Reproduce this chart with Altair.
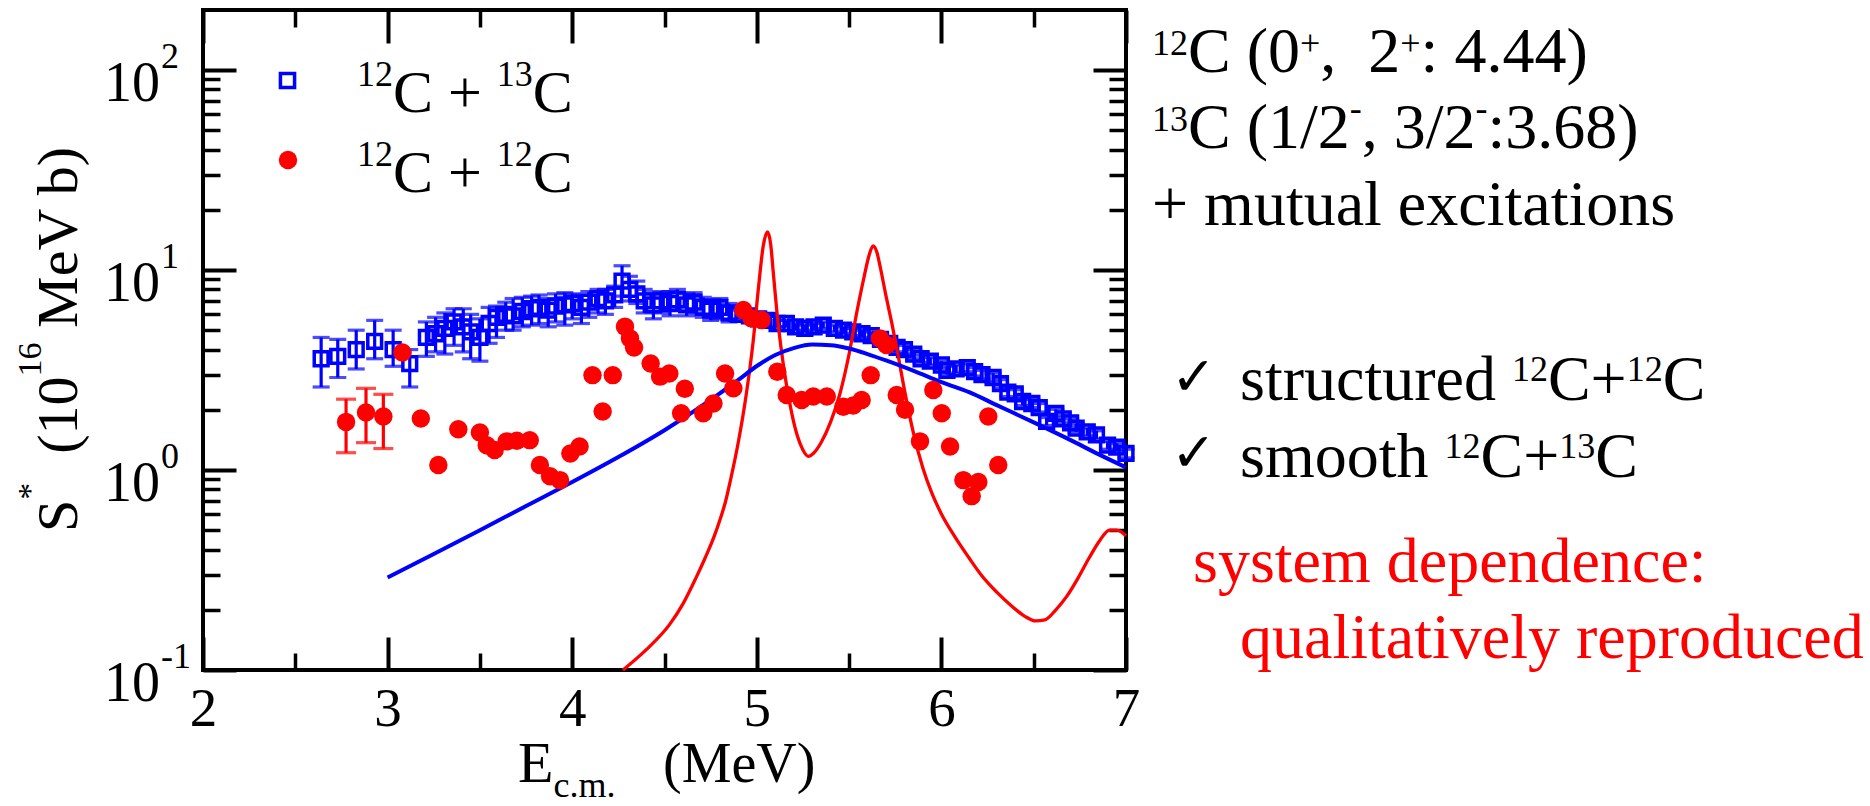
import altair as alt
import pandas as pd

BLUE = "#0000ff"
RED = "#ff0000"
FONT = "Liberation Serif"

# ---------------- data ----------------
blue_E = [2.64, 2.73, 2.83, 2.93, 3.03, 3.12, 3.21, 3.26, 3.31, 3.36,
          3.41, 3.45, 3.50, 3.55, 3.59, 3.64, 3.68, 3.73, 3.78, 3.82,
          3.87, 3.91, 3.96, 4.00, 4.05, 4.09, 4.14, 4.18, 4.23, 4.27,
          4.31, 4.35, 4.39, 4.44, 4.48, 4.53, 4.57, 4.62, 4.66, 4.71,
          4.75, 4.80, 4.85, 4.90, 4.96, 5.01, 5.06, 5.11, 5.16, 5.21,
          5.26, 5.31, 5.36, 5.42, 5.47, 5.52, 5.57, 5.62, 5.67, 5.72,
          5.76, 5.80, 5.85, 5.89, 5.94, 6.00, 6.03, 6.08, 6.14, 6.18,
          6.22, 6.28, 6.32, 6.36, 6.40, 6.44, 6.49, 6.53, 6.57, 6.62,
          6.66, 6.70, 6.73, 6.79, 6.84, 6.90, 6.95, 7.00]
blue_S = [3.6, 3.7, 4.0, 4.4, 4.0, 3.4, 4.6, 4.8, 5.1, 5.5,
          5.2, 4.9, 4.6, 5.4, 5.8, 6.0, 5.9, 6.2, 6.4, 6.5,
          6.3, 6.6, 6.7, 6.8, 6.5, 6.9, 7.2, 7.0, 7.5, 8.8,
          8.0, 7.6, 7.0, 6.7, 7.0, 6.8, 7.1, 6.7, 6.9, 6.5,
          6.3, 6.5, 6.1, 6.0, 5.9, 5.7, 5.6, 5.4, 5.4, 5.2,
          5.1, 5.2, 5.3, 5.1, 5.0, 4.9, 4.8, 4.7, 4.5, 4.3,
          4.1, 4.0, 3.8, 3.6, 3.5, 3.35, 3.15, 3.2, 3.25, 3.1,
          3.0, 2.9, 2.7, 2.45, 2.4, 2.2, 2.15, 2.05, 1.75, 1.92,
          1.8, 1.72, 1.62, 1.55, 1.5, 1.33, 1.3, 1.21]
blue_lo = [2.6, 2.9, 3.2, 3.6, 3.3, 2.6, 3.7, 3.9, 3.8, 4.2,
           3.9, 3.6, 3.5, 4.3, 4.6, 5.0, 5.0, 5.2, 5.3, 5.4,
           5.2, 5.5, 5.3, 5.7, 5.4, 5.8, 6.1, 6.0, 6.5, 7.4,
           7.0, 6.8, 6.1, 5.7, 6.1, 5.9, 6.3, 5.9, 6.1, 5.8,
           5.6, 5.7, 5.5, 5.7, 5.6, 5.5, 5.4, 5.2, 5.2, 5.0,
           4.9, 5.0, 5.1, 4.9, 4.8, 4.7, 4.6, 4.5, 4.3, 4.1,
           3.9, 3.8, 3.6, 3.45, 3.35, 3.2, 3.0, 3.05, 3.1, 2.95,
           2.85, 2.75, 2.57, 2.33, 2.28, 2.1, 2.05, 1.95, 1.67, 1.83,
           1.72, 1.64, 1.55, 1.48, 1.43, 1.27, 1.24, 1.15]
blue_hi = [4.6, 4.5, 5.0, 5.6, 5.0, 4.0, 5.5, 5.8, 6.1, 6.4,
           6.4, 6.0, 5.7, 6.5, 6.6, 6.9, 7.2, 7.3, 7.4, 7.5,
           7.2, 7.6, 7.7, 7.6, 7.5, 7.8, 8.0, 8.0, 8.3, 10.5,
           9.3, 8.8, 8.0, 7.7, 7.8, 7.8, 8.0, 7.6, 7.7, 7.3,
           7.1, 7.2, 6.8, 6.3, 6.2, 6.0, 5.9, 5.6, 5.6, 5.4,
           5.3, 5.4, 5.5, 5.3, 5.2, 5.1, 5.0, 4.9, 4.7, 4.5,
           4.3, 4.2, 4.0, 3.75, 3.65, 3.5, 3.3, 3.35, 3.4, 3.25,
           3.15, 3.05, 2.83, 2.57, 2.52, 2.3, 2.25, 2.15, 1.83, 2.01,
           1.88, 1.8, 1.7, 1.62, 1.57, 1.39, 1.36, 1.27]

red_E = [2.775, 2.883, 2.977, 3.08, 3.18, 3.275, 3.383, 3.50, 3.537, 3.58,
         3.645, 3.70, 3.77, 3.825, 3.88, 3.934, 3.99, 4.04, 4.11, 4.165,
         4.22, 4.286, 4.313, 4.335, 4.425, 4.476, 4.526, 4.59, 4.61, 4.71,
         4.765, 4.828, 4.873, 4.927, 4.972, 5.026, 5.111, 5.162, 5.243, 5.306,
         5.379, 5.469, 5.523, 5.568, 5.617, 5.667, 5.703, 5.758, 5.803, 5.884,
         5.956, 6.002, 6.047, 6.119, 6.164, 6.20, 6.254, 6.308]
red_S = [1.74, 1.94, 1.85, 3.87, 1.81, 1.06, 1.60, 1.54, 1.33, 1.26,
         1.39, 1.40, 1.41, 1.06, 0.93, 0.89, 1.21, 1.31, 2.98, 1.96,
         2.98, 5.21, 4.55, 4.10, 3.41, 2.93, 3.04, 1.92, 2.55, 1.92,
         2.15, 3.04, 2.56, 6.31, 5.73, 5.62, 3.10, 2.37, 2.24, 2.33,
         2.33, 2.07, 2.10, 2.24, 2.98, 4.55, 4.22, 2.37, 2.00, 1.39,
         2.51, 1.92, 1.31, 0.89, 0.74, 0.87, 1.85, 1.06]
red_err_E = [2.775, 2.883, 2.977]
red_err_lo = [1.22, 1.37, 1.28]
red_err_hi = [2.26, 2.56, 2.39]

blue_curve_E = [3.0, 3.25, 3.5, 3.75, 4.0, 4.25, 4.5, 4.75, 4.9, 5.0, 5.1, 5.2, 5.3,
                5.4, 5.5, 5.6, 5.7, 5.85, 6.0, 6.15, 6.3, 6.5, 6.7, 6.85, 7.0]
blue_curve_S = [0.29, 0.38, 0.50, 0.66, 0.87, 1.16, 1.58, 2.24, 2.82, 3.31, 3.76, 4.07, 4.24,
                4.21, 4.05, 3.80, 3.53, 3.13, 2.75, 2.45, 2.11, 1.73, 1.41, 1.20, 1.03]

red_curve_E = [4.275, 4.40, 4.53, 4.60, 4.67, 4.72, 4.77, 4.80, 4.83, 4.86,
               4.90, 4.94, 4.98, 5.01, 5.035, 5.058, 5.075, 5.09, 5.11,
               5.13, 5.16, 5.19, 5.22, 5.25, 5.28, 5.31, 5.35, 5.40, 5.45,
               5.50, 5.54, 5.58, 5.61, 5.63, 5.65, 5.67, 5.70, 5.73, 5.76,
               5.80, 5.85, 5.90, 5.95, 6.00, 6.07, 6.15, 6.22, 6.30, 6.38,
               6.45, 6.51, 6.56, 6.62, 6.68, 6.74, 6.80, 6.86, 6.91, 6.95, 7.00]
red_curve_S = [0.100, 0.126, 0.170, 0.214, 0.288, 0.363, 0.468, 0.562, 0.692, 0.912,
               1.38, 2.29, 4.37, 8.32, 13.2, 15.5, 13.5, 9.55, 6.03,
               4.17, 2.69, 1.91, 1.48, 1.26, 1.17, 1.22, 1.38, 1.74, 2.40,
               3.80, 6.03, 9.12, 12.0, 13.2, 12.3, 10.2, 7.41, 5.50, 3.98,
               2.51, 1.51, 1.02, 0.759, 0.603, 0.468, 0.363, 0.295, 0.245, 0.209,
               0.186, 0.176, 0.178, 0.200, 0.234, 0.288, 0.363, 0.447, 0.501, 0.501, 0.468]

x_major = [2, 3, 4, 5, 6, 7]
x_minor = [2.5, 3.5, 4.5, 5.5, 6.5]
y_major = [0.1, 1, 10, 100]
y_exponents = ["-1", "0", "1", "2"]
y_minor = [0.2, 0.3, 0.4, 0.5, 0.6, 0.7, 0.8, 0.9,
           2, 3, 4, 5, 6, 7, 8, 9,
           20, 30, 40, 50, 60, 70, 80, 90]

# ---------------- layout ----------------
W, H = 923, 660
LEFT, TOP = 203, 10
xs = alt.Scale(domain=[2, 7], nice=False, zero=False)
ys = alt.Scale(type="log", domain=[0.1, 199.5], nice=False)


def tick_axis(orient, values, length, labels=False):
    kw = dict(orient=orient, values=values, tickSize=length, offset=-length,
              tickWidth=4 if length > 20 else 3.5, tickColor="black", domain=False,
              grid=False, labels=labels, title=None, ticks=True)
    if labels:
        kw.update(labelFont=FONT, labelFontSize=55, labelColor="black", labelPadding=12,
                  labelFlush=False, labelOverlap=False, format="d")
    return alt.Axis(**kw)


blue_df = pd.DataFrame({"E": blue_E, "S": blue_S, "lo": blue_lo, "hi": blue_hi})
red_df = pd.DataFrame({"E": red_E, "S": red_S})
red_err_df = pd.DataFrame({"E": red_err_E, "lo": red_err_lo, "hi": red_err_hi})
bc_df = pd.DataFrame({"E": blue_curve_E, "S": blue_curve_S})
rc_df = pd.DataFrame({"E": red_curve_E, "S": red_curve_S})

blue_rules = alt.Chart(blue_df).mark_rule(color=BLUE, strokeWidth=3.2).encode(
    x=alt.X("E:Q", scale=xs, axis=tick_axis("bottom", x_major, 33, labels=True)),
    y=alt.Y("lo:Q", scale=ys, axis=tick_axis("left", y_major, 33)),
    y2="hi:Q")
blue_cap_lo = alt.Chart(blue_df).mark_tick(color=BLUE, orient="horizontal", size=17, thickness=3.2).encode(
    x=alt.X("E:Q", scale=xs, axis=tick_axis("bottom", x_minor, 17)),
    y=alt.Y("lo:Q", scale=ys, axis=tick_axis("left", y_minor, 17)))
blue_cap_hi = alt.Chart(blue_df).mark_tick(color=BLUE, orient="horizontal", size=17, thickness=3.2).encode(
    x=alt.X("E:Q", scale=xs, axis=tick_axis("top", x_major, 33)),
    y=alt.Y("hi:Q", scale=ys, axis=tick_axis("right", y_major, 33)))
blue_pts = alt.Chart(blue_df).mark_point(shape="square", filled=False, size=190, strokeWidth=3.5,
                                         color=BLUE, opacity=1).encode(
    x=alt.X("E:Q", scale=xs, axis=tick_axis("top", x_minor, 17)),
    y=alt.Y("S:Q", scale=ys, axis=tick_axis("right", y_minor, 17)))

red_rules = alt.Chart(red_err_df).mark_rule(color=RED, strokeWidth=3.2).encode(
    x=alt.X("E:Q", scale=xs, axis=None), y=alt.Y("lo:Q", scale=ys, axis=None), y2="hi:Q")
red_cap_lo = alt.Chart(red_err_df).mark_tick(color=RED, orient="horizontal", size=20, thickness=3.2).encode(
    x=alt.X("E:Q", scale=xs, axis=None), y=alt.Y("lo:Q", scale=ys, axis=None))
red_cap_hi = alt.Chart(red_err_df).mark_tick(color=RED, orient="horizontal", size=20, thickness=3.2).encode(
    x=alt.X("E:Q", scale=xs, axis=None), y=alt.Y("hi:Q", scale=ys, axis=None))
red_pts = alt.Chart(red_df).mark_circle(color=RED, size=340, opacity=1).encode(
    x=alt.X("E:Q", scale=xs, axis=None), y=alt.Y("S:Q", scale=ys, axis=None))

blue_line = alt.Chart(bc_df).mark_line(color=BLUE, strokeWidth=4, interpolate="monotone").encode(
    x=alt.X("E:Q", scale=xs, axis=None), y=alt.Y("S:Q", scale=ys, axis=None))
red_line = alt.Chart(rc_df).mark_line(color=RED, strokeWidth=3.3, interpolate="monotone").encode(
    x=alt.X("E:Q", scale=xs, axis=None), y=alt.Y("S:Q", scale=ys, axis=None))

# y tick labels "10" + exponent, placed through the log scale
ylab_df = pd.DataFrame({"v": y_major, "exp": y_exponents, "base": ["10"] * 4})
ylab_base = alt.Chart(ylab_df).mark_text(font=FONT, fontSize=56, align="right", baseline="alphabetic",
                                         dy=31, color="black").encode(
    x=alt.value(160 - LEFT), y=alt.Y("v:Q", scale=ys, axis=None), text="base:N")
ylab_exp = alt.Chart(ylab_df).mark_text(font=FONT, fontSize=36, align="left", baseline="alphabetic",
                                        dy=-2, color="black").encode(
    x=alt.value(161 - LEFT), y=alt.Y("v:Q", scale=ys, axis=None), text="exp:N")

# ---------------- text annotations (rich text built from pieces) ----------------
TW = {' ': 250, '(': 333, ')': 333, '*': 500, '+': 564, ',': 250, '-': 333, '.': 250, '/': 278,
      ':': 278, 'C': 667, 'E': 611, 'M': 889, 'S': 556, 'V': 722, 'a': 444, 'b': 500, 'c': 444,
      'd': 500, 'e': 444, 'h': 500, 'i': 278, 'l': 278, 'm': 778, 'n': 500, 'o': 500, 'p': 500,
      'q': 500, 'r': 333, 's': 389, 't': 278, 'u': 500, 'v': 500, 'x': 500, 'y': 500}


def tw(s, fs):
    return sum(TW.get(ch, 500) for ch in s) / 1000.0 * fs


rows = []


def run(pieces, x, y, fs, sfs, rise, color="black", angle=0):
    for p in pieces:
        txt, kind = p[0], p[1]
        r = p[2] if len(p) > 2 else rise
        size = fs if kind == "n" else sfs
        lead = len(txt) - len(txt.lstrip(" "))
        adv_lead = lead * 0.25 * size
        body = txt.strip(" ")
        if angle == 0:
            x += adv_lead
            yy = y - r if kind == "sup" else (y + r if kind == "sub" else y)
            rows.append((body, x - LEFT, yy - TOP, size, color, 0))
            x += tw(txt.lstrip(" "), size)
        else:
            y -= adv_lead
            xx = x - r if kind == "sup" else x
            rows.append((body, xx - LEFT, y - TOP, size, color, 270))
            y -= tw(txt.lstrip(" "), size)


# legend text
run([("12", "sup"), ("C + ", "n"), ("13", "sup"), ("C", "n")], 357, 112, 60, 36, 26)
run([("12", "sup"), ("C + ", "n"), ("12", "sup"), ("C", "n")], 357, 192, 60, 36, 26)
# axis titles
run([("E", "n"), ("c.m.", "sub", 15)], 518, 782, 58, 36, 15)
run([("(MeV)", "n")], 663, 782, 56, 36, 0)
run([("S", "n"), ("*", "sup"), ("  (10", "n"), ("16", "sup"), (" MeV b)", "n")], 77, 532, 58, 34, 36,
    angle=270)
# right-hand notes
run([("12", "sup"), ("C (0", "n"), ("+", "sup"), (",", "n"), ("  2", "n"), ("+", "sup"), (": 4.44)", "n")],
    1152, 72, 64, 36, 17)
run([("13", "sup"), ("C (1/2", "n"), ("-", "sup", 28), (", 3/2", "n"), ("-", "sup", 28), (":3.68)", "n")],
    1152, 148, 64, 36, 17)
run([("+ mutual excitations", "n")], 1152, 225, 64, 36, 0)
run([("structured ", "n"), ("12", "sup"), ("C+", "n"), ("12", "sup"), ("C", "n")], 1240, 400, 64, 36, 19)
run([("smooth ", "n"), ("12", "sup"), ("C+", "n"), ("13", "sup"), ("C", "n")], 1240, 477, 64, 36, 19)
run([("system dependence:", "n")], 1193, 582, 64, 36, 0, color=RED)
run([("qualitatively reproduced", "n")], 1240, 658, 64, 36, 0, color=RED)

ann = pd.DataFrame(rows, columns=["text", "x", "y", "size", "color", "angle"])
text_layer = alt.Chart(ann).mark_text(font=FONT, align="left", baseline="alphabetic").encode(
    x=alt.X("x:Q", scale=None, axis=None),
    y=alt.Y("y:Q", scale=None, axis=None),
    text="text:N",
    size=alt.Size("size:Q", scale=None, legend=None),
    color=alt.Color("color:N", scale=None, legend=None),
    angle=alt.Angle("angle:Q", scale=None, legend=None))

check_df = pd.DataFrame({"text": ["\u2713", "\u2713"], "x": [1171 - LEFT, 1171 - LEFT],
                         "y": [395 - TOP, 471 - TOP]})
check_layer = alt.Chart(check_df).mark_text(font="DejaVu Sans", fontSize=54, align="left",
                                            baseline="alphabetic", color="black").encode(
    x=alt.X("x:Q", scale=None, axis=None), y=alt.Y("y:Q", scale=None, axis=None), text="text:N")

one = pd.DataFrame({"a": [0]})
leg_sq = alt.Chart(one).mark_point(shape="square", filled=False, size=200, strokeWidth=3.5,
                                   color=BLUE, opacity=1).encode(
    x=alt.value(287.5 - LEFT), y=alt.value(80.5 - TOP))
leg_ci = alt.Chart(one).mark_circle(color=RED, size=340, opacity=1).encode(
    x=alt.value(288 - LEFT), y=alt.value(160 - TOP))

chart = alt.layer(
    blue_rules, blue_cap_lo, blue_cap_hi, blue_pts,
    red_line, blue_line,
    red_rules, red_cap_lo, red_cap_hi, red_pts,
    ylab_base, ylab_exp, text_layer, check_layer, leg_sq, leg_ci
).resolve_axis(x="independent", y="independent").properties(
    width=W, height=H,
    autosize=alt.AutoSizeParams(type="none"),
    padding={"left": LEFT, "top": TOP, "right": 1870 - LEFT - W, "bottom": 806 - TOP - H},
).configure(background="white").configure_view(stroke="black", strokeWidth=4)

chart.save("out.html", embed_options={"renderer": "svg", "actions": False})
